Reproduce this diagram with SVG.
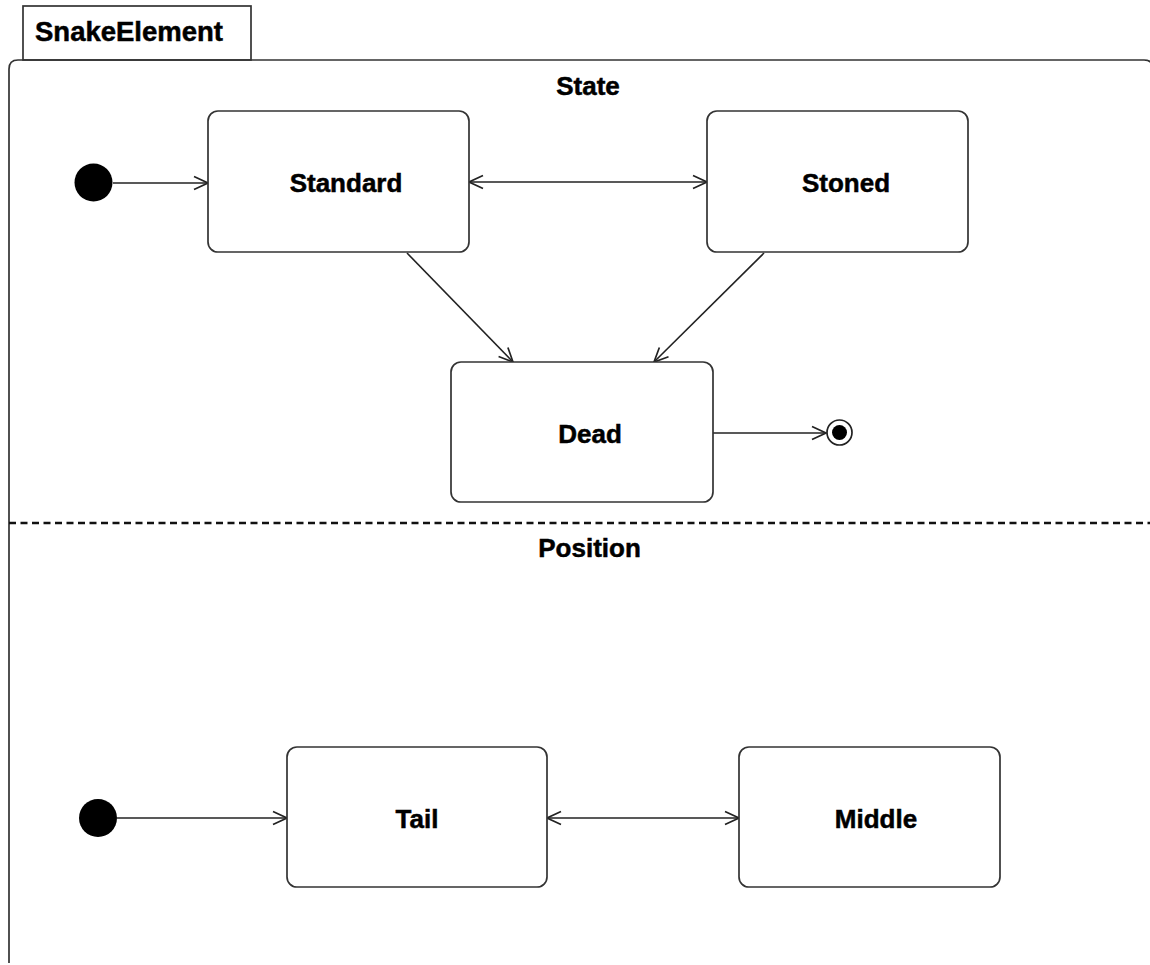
<svg xmlns="http://www.w3.org/2000/svg" width="1150" height="965" viewBox="0 0 1150 965">
  <style>
    .frame { fill: none; stroke: #333; stroke-width: 1.7; }
    .state { fill: #fff; stroke: #333; stroke-width: 1.7; }
    .label { font-family: "Liberation Sans", Arial, sans-serif; font-weight: bold; font-size: 26px; fill: #000; stroke: #000; stroke-width: 0.5; text-anchor: middle; }
    .edge { fill: none; stroke: #222; stroke-width: 1.6; }
  </style>
  <defs>
    <marker id="open" viewBox="0 0 16 16" refX="15" refY="8" markerWidth="16" markerHeight="16" markerUnits="userSpaceOnUse" orient="auto-start-reverse">
      <path d="M1,1.5 L15,8 L1,14.5" fill="none" stroke="#222" stroke-width="1.7"/>
    </marker>
  </defs>
  <rect width="1150" height="965" fill="#fff"/>

  <!-- composite state frame -->
  <g id="snake-element">
    <rect class="frame" x="23" y="6" width="228" height="54" fill="#fff"/>
    <text class="label" x="35" y="41" style="text-anchor:start;font-size:27.5px">SnakeElement</text>
    <path class="frame" d="M9,963 L9,69 Q9,60 18,60 L1144,60 Q1153,60 1153,69"/>
    <text class="label" x="588" y="95">State</text>
    <line x1="9" y1="523" x2="1150" y2="523" stroke="#111" stroke-width="2.5" stroke-dasharray="7,4.5"/>
    <text class="label" x="589.5" y="557">Position</text>
  </g>

  <!-- connectors -->
  <g id="connectors">
    <line class="edge" x1="113" y1="183" x2="208" y2="183" marker-end="url(#open)"/>
    <line class="edge" x1="469" y1="182" x2="707" y2="182" marker-start="url(#open)" marker-end="url(#open)"/>
    <line class="edge" x1="407" y1="253" x2="513" y2="362" marker-end="url(#open)"/>
    <line class="edge" x1="764" y1="253" x2="654" y2="362" marker-end="url(#open)"/>
    <line class="edge" x1="713" y1="433" x2="826" y2="433" marker-end="url(#open)"/>
    <line class="edge" x1="117" y1="818" x2="287" y2="818" marker-end="url(#open)"/>
    <line class="edge" x1="547" y1="818" x2="739" y2="818" marker-start="url(#open)" marker-end="url(#open)"/>
  </g>

  <!-- State region -->
  <g id="initial-state">
    <circle cx="93.5" cy="182.5" r="19" fill="#000"/>
  </g>
  <g id="standard">
    <rect class="state" x="208" y="111" width="261" height="141" rx="10"/>
    <text class="label" x="346" y="192">Standard</text>
  </g>
  <g id="stoned">
    <rect class="state" x="707" y="111" width="261" height="141" rx="10"/>
    <text class="label" x="846" y="192">Stoned</text>
  </g>
  <g id="dead">
    <rect class="state" x="451" y="362" width="262" height="140" rx="10"/>
    <text class="label" x="590" y="443">Dead</text>
  </g>
  <g id="final-state">
    <circle cx="839.5" cy="432.5" r="12.5" fill="#fff" stroke="#222" stroke-width="1.7"/>
    <circle cx="839.5" cy="432.5" r="7.5" fill="#000"/>
  </g>

  <!-- Position region -->
  <g id="initial-position">
    <circle cx="98" cy="818" r="19" fill="#000"/>
  </g>
  <g id="tail">
    <rect class="state" x="287" y="747" width="260" height="140" rx="10"/>
    <text class="label" x="417" y="828">Tail</text>
  </g>
  <g id="middle">
    <rect class="state" x="739" y="747" width="261" height="140" rx="10"/>
    <text class="label" x="876" y="828">Middle</text>
  </g>
</svg>
